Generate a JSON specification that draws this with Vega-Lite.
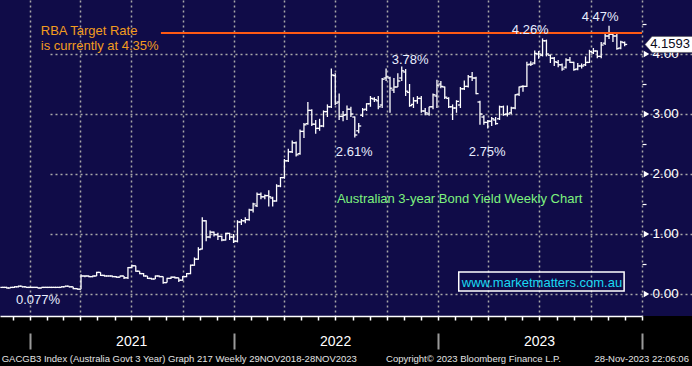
{
"$schema": "https://vega.github.io/schema/vega-lite/v6.json",
"width": 692, "height": 316,
"autosize": {"type": "none"},
"padding": {"left": 0, "top": 0, "right": 0, "bottom": 50},
"background": "#000000",
"view": {"fill": "#100c48", "stroke": null},
"config": {"font": "Liberation Sans"},
"datasets": {
"ohlc": [
{"d":"2020-11-13","o":0.11,"h":0.12,"l":0.10,"c":0.11},
{"d":"2020-11-20","o":0.11,"h":0.12,"l":0.09,"c":0.10},
{"d":"2020-11-27","o":0.10,"h":0.12,"l":0.10,"c":0.11},
{"d":"2020-12-04","o":0.11,"h":0.13,"l":0.10,"c":0.12},
{"d":"2020-12-11","o":0.12,"h":0.14,"l":0.11,"c":0.13},
{"d":"2020-12-18","o":0.13,"h":0.13,"l":0.11,"c":0.12},
{"d":"2020-12-25","o":0.12,"h":0.12,"l":0.10,"c":0.11},
{"d":"2021-01-01","o":0.11,"h":0.12,"l":0.10,"c":0.11},
{"d":"2021-01-08","o":0.11,"h":0.12,"l":0.10,"c":0.11},
{"d":"2021-01-15","o":0.11,"h":0.11,"l":0.09,"c":0.10},
{"d":"2021-01-22","o":0.10,"h":0.12,"l":0.10,"c":0.11},
{"d":"2021-01-29","o":0.11,"h":0.12,"l":0.10,"c":0.11},
{"d":"2021-02-05","o":0.11,"h":0.12,"l":0.10,"c":0.11},
{"d":"2021-02-12","o":0.11,"h":0.12,"l":0.10,"c":0.11},
{"d":"2021-02-19","o":0.11,"h":0.12,"l":0.10,"c":0.11},
{"d":"2021-02-26","o":0.11,"h":0.13,"l":0.11,"c":0.12},
{"d":"2021-03-05","o":0.12,"h":0.14,"l":0.12,"c":0.13},
{"d":"2021-03-12","o":0.13,"h":0.13,"l":0.11,"c":0.12},
{"d":"2021-03-19","o":0.12,"h":0.12,"l":0.08,"c":0.09},
{"d":"2021-03-26","o":0.09,"h":0.10,"l":0.077,"c":0.08},
{"d":"2021-04-02","o":0.08,"h":0.33,"l":0.08,"c":0.30},
{"d":"2021-04-09","o":0.30,"h":0.31,"l":0.28,"c":0.30},
{"d":"2021-04-16","o":0.30,"h":0.31,"l":0.28,"c":0.29},
{"d":"2021-04-23","o":0.29,"h":0.31,"l":0.28,"c":0.30},
{"d":"2021-04-30","o":0.30,"h":0.37,"l":0.30,"c":0.36},
{"d":"2021-05-07","o":0.36,"h":0.36,"l":0.30,"c":0.31},
{"d":"2021-05-14","o":0.31,"h":0.32,"l":0.29,"c":0.30},
{"d":"2021-05-21","o":0.30,"h":0.31,"l":0.29,"c":0.30},
{"d":"2021-05-28","o":0.30,"h":0.31,"l":0.28,"c":0.29},
{"d":"2021-06-04","o":0.29,"h":0.30,"l":0.27,"c":0.28},
{"d":"2021-06-11","o":0.28,"h":0.31,"l":0.28,"c":0.30},
{"d":"2021-06-18","o":0.30,"h":0.30,"l":0.25,"c":0.27},
{"d":"2021-06-25","o":0.27,"h":0.45,"l":0.25,"c":0.44},
{"d":"2021-07-02","o":0.44,"h":0.49,"l":0.43,"c":0.47},
{"d":"2021-07-09","o":0.47,"h":0.47,"l":0.37,"c":0.38},
{"d":"2021-07-16","o":0.38,"h":0.38,"l":0.33,"c":0.34},
{"d":"2021-07-23","o":0.34,"h":0.35,"l":0.29,"c":0.30},
{"d":"2021-07-30","o":0.30,"h":0.30,"l":0.25,"c":0.26},
{"d":"2021-08-06","o":0.26,"h":0.27,"l":0.24,"c":0.25},
{"d":"2021-08-13","o":0.25,"h":0.31,"l":0.25,"c":0.30},
{"d":"2021-08-20","o":0.30,"h":0.31,"l":0.28,"c":0.29},
{"d":"2021-08-27","o":0.29,"h":0.29,"l":0.17,"c":0.19},
{"d":"2021-09-03","o":0.19,"h":0.27,"l":0.19,"c":0.26},
{"d":"2021-09-10","o":0.26,"h":0.29,"l":0.25,"c":0.28},
{"d":"2021-09-17","o":0.28,"h":0.29,"l":0.26,"c":0.27},
{"d":"2021-09-24","o":0.27,"h":0.27,"l":0.20,"c":0.23},
{"d":"2021-10-01","o":0.23,"h":0.30,"l":0.22,"c":0.29},
{"d":"2021-10-08","o":0.29,"h":0.35,"l":0.28,"c":0.34},
{"d":"2021-10-15","o":0.34,"h":0.49,"l":0.33,"c":0.48},
{"d":"2021-10-22","o":0.48,"h":0.61,"l":0.47,"c":0.58},
{"d":"2021-10-29","o":0.58,"h":0.78,"l":0.57,"c":0.74},
{"d":"2021-11-05","o":0.75,"h":1.28,"l":0.74,"c":1.22},
{"d":"2021-11-12","o":1.22,"h":1.23,"l":0.88,"c":0.95},
{"d":"2021-11-19","o":0.95,"h":1.06,"l":0.93,"c":1.03},
{"d":"2021-11-26","o":1.03,"h":1.04,"l":0.96,"c":0.99},
{"d":"2021-12-03","o":0.99,"h":1.02,"l":0.90,"c":0.96},
{"d":"2021-12-10","o":0.96,"h":0.97,"l":0.88,"c":0.90},
{"d":"2021-12-17","o":0.90,"h":1.02,"l":0.89,"c":1.01},
{"d":"2021-12-24","o":1.01,"h":1.02,"l":0.90,"c":0.95},
{"d":"2021-12-31","o":0.95,"h":1.00,"l":0.85,"c":0.88},
{"d":"2022-01-07","o":0.88,"h":1.23,"l":0.86,"c":1.20},
{"d":"2022-01-14","o":1.20,"h":1.25,"l":1.15,"c":1.22},
{"d":"2022-01-21","o":1.22,"h":1.28,"l":1.18,"c":1.24},
{"d":"2022-01-28","o":1.24,"h":1.42,"l":1.22,"c":1.40},
{"d":"2022-02-04","o":1.40,"h":1.52,"l":1.36,"c":1.50},
{"d":"2022-02-11","o":1.47,"h":1.69,"l":1.45,"c":1.66},
{"d":"2022-02-18","o":1.66,"h":1.69,"l":1.58,"c":1.62},
{"d":"2022-02-25","o":1.62,"h":1.66,"l":1.58,"c":1.64},
{"d":"2022-03-04","o":1.64,"h":1.73,"l":1.46,"c":1.62},
{"d":"2022-03-11","o":1.60,"h":1.62,"l":1.46,"c":1.55},
{"d":"2022-03-18","o":1.55,"h":1.83,"l":1.54,"c":1.80},
{"d":"2022-03-25","o":1.80,"h":1.95,"l":1.78,"c":1.94},
{"d":"2022-04-01","o":1.94,"h":2.25,"l":1.92,"c":2.22},
{"d":"2022-04-08","o":2.22,"h":2.42,"l":2.20,"c":2.37},
{"d":"2022-04-15","o":2.37,"h":2.56,"l":2.35,"c":2.52},
{"d":"2022-04-22","o":2.52,"h":2.54,"l":2.29,"c":2.32},
{"d":"2022-04-29","o":2.34,"h":2.74,"l":2.32,"c":2.71},
{"d":"2022-05-06","o":2.71,"h":2.85,"l":2.60,"c":2.82},
{"d":"2022-05-13","o":2.84,"h":3.20,"l":2.82,"c":3.06},
{"d":"2022-05-20","o":3.06,"h":3.08,"l":2.80,"c":2.83},
{"d":"2022-05-27","o":2.83,"h":2.90,"l":2.67,"c":2.76},
{"d":"2022-06-03","o":2.76,"h":2.92,"l":2.72,"c":2.80},
{"d":"2022-06-10","o":2.80,"h":3.06,"l":2.78,"c":3.04},
{"d":"2022-06-17","o":3.04,"h":3.16,"l":2.95,"c":3.12},
{"d":"2022-06-24","o":3.12,"h":3.76,"l":3.10,"c":3.65},
{"d":"2022-07-01","o":3.64,"h":3.68,"l":3.15,"c":3.18},
{"d":"2022-07-08","o":3.20,"h":3.34,"l":2.90,"c":2.96},
{"d":"2022-07-15","o":2.96,"h":3.05,"l":2.88,"c":2.98},
{"d":"2022-07-22","o":2.99,"h":3.14,"l":2.90,"c":3.08},
{"d":"2022-07-29","o":3.08,"h":3.12,"l":2.95,"c":3.00},
{"d":"2022-08-05","o":2.95,"h":2.96,"l":2.61,"c":2.65},
{"d":"2022-08-12","o":2.72,"h":2.85,"l":2.68,"c":2.80},
{"d":"2022-08-19","o":2.98,"h":3.10,"l":2.95,"c":3.07},
{"d":"2022-08-26","o":3.08,"h":3.18,"l":3.05,"c":3.17},
{"d":"2022-09-02","o":3.17,"h":3.30,"l":3.12,"c":3.26},
{"d":"2022-09-09","o":3.25,"h":3.28,"l":3.20,"c":3.24},
{"d":"2022-09-16","o":3.22,"h":3.30,"l":3.08,"c":3.12},
{"d":"2022-09-23","o":3.15,"h":3.60,"l":3.10,"c":3.58},
{"d":"2022-09-30","o":3.60,"h":3.76,"l":3.55,"c":3.62},
{"d":"2022-10-07","o":3.60,"h":3.62,"l":3.02,"c":3.43},
{"d":"2022-10-14","o":3.40,"h":3.60,"l":3.35,"c":3.45},
{"d":"2022-10-21","o":3.45,"h":3.68,"l":3.45,"c":3.55},
{"d":"2022-10-28","o":3.60,"h":3.79,"l":3.55,"c":3.72},
{"d":"2022-11-04","o":3.70,"h":3.75,"l":3.30,"c":3.38},
{"d":"2022-11-11","o":3.36,"h":3.50,"l":3.12,"c":3.14},
{"d":"2022-11-18","o":3.16,"h":3.28,"l":3.10,"c":3.22},
{"d":"2022-11-25","o":3.22,"h":3.30,"l":3.17,"c":3.26},
{"d":"2022-12-02","o":3.26,"h":3.30,"l":3.02,"c":3.05},
{"d":"2022-12-09","o":3.05,"h":3.10,"l":2.98,"c":3.02},
{"d":"2022-12-16","o":3.00,"h":3.12,"l":2.97,"c":3.12},
{"d":"2022-12-23","o":3.12,"h":3.34,"l":3.08,"c":3.32},
{"d":"2022-12-30","o":3.30,"h":3.57,"l":3.10,"c":3.48},
{"d":"2023-01-06","o":3.50,"h":3.55,"l":3.43,"c":3.46},
{"d":"2023-01-13","o":3.45,"h":3.46,"l":3.25,"c":3.28},
{"d":"2023-01-20","o":3.26,"h":3.28,"l":3.10,"c":3.12},
{"d":"2023-01-27","o":3.12,"h":3.16,"l":2.90,"c":3.10},
{"d":"2023-02-03","o":3.10,"h":3.23,"l":3.02,"c":3.21},
{"d":"2023-02-10","o":3.15,"h":3.45,"l":3.10,"c":3.42},
{"d":"2023-02-17","o":3.42,"h":3.56,"l":3.40,"c":3.46},
{"d":"2023-02-24","o":3.46,"h":3.65,"l":3.44,"c":3.62},
{"d":"2023-03-03","o":3.62,"h":3.70,"l":3.55,"c":3.60},
{"d":"2023-03-10","o":3.60,"h":3.62,"l":3.33,"c":3.34},
{"d":"2023-03-17","o":3.20,"h":3.22,"l":2.82,"c":3.00},
{"d":"2023-03-24","o":2.95,"h":2.98,"l":2.82,"c":2.86},
{"d":"2023-03-31","o":2.86,"h":2.90,"l":2.76,"c":2.88},
{"d":"2023-04-07","o":2.88,"h":2.95,"l":2.80,"c":2.92},
{"d":"2023-04-14","o":2.90,"h":2.95,"l":2.82,"c":2.84},
{"d":"2023-04-21","o":2.92,"h":3.14,"l":2.90,"c":3.12},
{"d":"2023-04-28","o":3.12,"h":3.14,"l":2.97,"c":2.99},
{"d":"2023-05-05","o":3.00,"h":3.14,"l":2.96,"c":3.00},
{"d":"2023-05-12","o":3.02,"h":3.12,"l":3.00,"c":3.10},
{"d":"2023-05-19","o":3.10,"h":3.33,"l":3.08,"c":3.32},
{"d":"2023-05-26","o":3.33,"h":3.46,"l":3.30,"c":3.45},
{"d":"2023-06-02","o":3.46,"h":3.48,"l":3.37,"c":3.46},
{"d":"2023-06-09","o":3.46,"h":3.87,"l":3.45,"c":3.82},
{"d":"2023-06-16","o":3.83,"h":3.88,"l":3.80,"c":3.83},
{"d":"2023-06-23","o":3.85,"h":4.06,"l":3.83,"c":4.01},
{"d":"2023-06-30","o":4.00,"h":4.05,"l":3.92,"c":4.00},
{"d":"2023-07-07","o":3.98,"h":4.26,"l":3.96,"c":4.22},
{"d":"2023-07-14","o":4.22,"h":4.24,"l":3.96,"c":4.00},
{"d":"2023-07-21","o":3.98,"h":3.99,"l":3.85,"c":3.93},
{"d":"2023-07-28","o":3.93,"h":3.95,"l":3.80,"c":3.87},
{"d":"2023-08-04","o":3.86,"h":3.90,"l":3.78,"c":3.82},
{"d":"2023-08-11","o":3.82,"h":3.84,"l":3.72,"c":3.75},
{"d":"2023-08-18","o":3.78,"h":3.93,"l":3.76,"c":3.90},
{"d":"2023-08-25","o":3.90,"h":3.95,"l":3.85,"c":3.86},
{"d":"2023-09-01","o":3.86,"h":3.87,"l":3.72,"c":3.74},
{"d":"2023-09-08","o":3.75,"h":3.85,"l":3.73,"c":3.80},
{"d":"2023-09-15","o":3.80,"h":3.84,"l":3.76,"c":3.80},
{"d":"2023-09-22","o":3.82,"h":3.96,"l":3.80,"c":3.86},
{"d":"2023-09-29","o":3.86,"h":4.07,"l":3.85,"c":4.04},
{"d":"2023-10-06","o":4.02,"h":4.10,"l":4.00,"c":4.05},
{"d":"2023-10-13","o":4.05,"h":4.06,"l":3.93,"c":3.96},
{"d":"2023-10-20","o":3.96,"h":4.20,"l":3.93,"c":4.15},
{"d":"2023-10-27","o":4.18,"h":4.34,"l":4.15,"c":4.30},
{"d":"2023-11-03","o":4.30,"h":4.47,"l":4.25,"c":4.33},
{"d":"2023-11-10","o":4.33,"h":4.36,"l":4.20,"c":4.30},
{"d":"2023-11-17","o":4.30,"h":4.34,"l":4.07,"c":4.09},
{"d":"2023-11-24","o":4.10,"h":4.22,"l":4.08,"c":4.20},
{"d":"2023-12-01","o":4.19,"h":4.21,"l":4.13,"c":4.1593}
]
},
"layer": [
{"data": {"name": "ohlc"},
 "mark": {"type": "rule", "color": "#ffffff", "strokeWidth": 1.3},
 "encoding": {
  "x": {"field": "d", "type": "temporal", "scale": {"type": "utc", "domain": [1604793600000, 1704067200000], "range": [0, 642]},
        "axis": {"orient": "bottom", "tickCount": {"interval": "month", "step": 3}, "grid": true, "gridColor": "#a8a8a8", "gridDash": [2, 3], "gridWidth": 1.5, "gridOpacity": 1, "ticks": false, "labels": false, "domain": false, "title": null, "zindex": 0}},
  "y": {"field": "l", "type": "quantitative", "scale": {"domain": [-0.3667, 4.9], "nice": false, "zero": false},
        "axis": {"orient": "right", "offset": -50, "values": [0, 1, 2, 3, 4], "format": ".2f", "grid": false, "ticks": false, "domain": false, "labelColor": "#ffffff", "labelFont": "Liberation Sans", "labelFontSize": 13.5, "labelPadding": 10, "zindex": 0, "title": null}},
  "y2": {"field": "h"}
 }},
{"data": {"name": "ohlc"},
 "mark": {"type": "rule", "color": "#ffffff", "strokeWidth": 1.3, "xOffset": -2.5, "x2Offset": 0},
 "encoding": {
  "x": {"field": "d", "type": "temporal", "scale": {"type": "utc", "domain": [1604793600000, 1704067200000], "range": [0, 642]},
        "axis": {"orient": "bottom", "tickCount": {"interval": "month", "step": 1}, "grid": false, "labels": false, "ticks": true, "tickColor": "#ffffff", "tickSize": 4, "tickWidth": 1.5, "domain": true, "domainColor": "#ffffff", "domainWidth": 1.5, "title": null}},
  "x2": {"field": "d"},
  "y": {"field": "o", "type": "quantitative", "scale": {"domain": [-0.3667, 4.9], "nice": false, "zero": false},
        "axis": {"orient": "right", "offset": -50, "values": [0.5, 1.5, 2.5, 3.5, 4.5], "labels": false, "grid": false, "domain": false, "ticks": true, "tickColor": "#ffffff", "tickSize": 4, "tickWidth": 1.2, "title": null}}
 }},
{"data": {"name": "ohlc"},
 "mark": {"type": "rule", "color": "#ffffff", "strokeWidth": 1.3, "xOffset": 0, "x2Offset": 2.5},
 "encoding": {
  "x": {"field": "d", "type": "temporal", "scale": {"type": "utc", "domain": [1604793600000, 1704067200000], "range": [0, 642]},
        "axis": {"orient": "bottom", "offset": 17, "tickCount": {"interval": "year", "step": 1}, "ticks": true, "tickColor": "#9a9a9a", "tickSize": 16, "tickWidth": 2, "domain": false, "grid": false, "labels": true, "format": "%Y", "labelExpr": "utcyear(datum.value) == 2024 ? '' : datum.label", "labelOffset": 101, "labelPadding": -7.5, "labelBaseline": "middle", "labelAlign": "center", "labelColor": "#ffffff", "labelFont": "Liberation Sans", "labelFontSize": 14, "labelOverlap": false, "labelFlush": false, "labelBound": false, "title": null}},
  "x2": {"field": "d"},
  "y": {"field": "c", "type": "quantitative", "scale": {"domain": [-0.3667, 4.9], "nice": false, "zero": false},
        "axis": {"orient": "right", "offset": -50, "values": [0, 1, 2, 3, 4], "grid": true, "gridColor": "#a8a8a8", "gridDash": [2, 3], "gridWidth": 1.5, "gridOpacity": 1, "labels": false, "ticks": false, "domain": false, "title": null, "zindex": 0}}
 }},
{"data": {"values": [{"d0": "2021-08-23", "d1": "2024-01-01", "v": 4.35}]},
 "mark": {"type": "rule", "color": "#ff5a14", "strokeWidth": 2},
 "encoding": {
  "x": {"field": "d0", "type": "temporal", "scale": {"type": "utc", "domain": [1604793600000, 1704067200000], "range": [0, 642]}, "axis": null},
  "x2": {"field": "d1"},
  "y": {"field": "v", "type": "quantitative", "scale": {"domain": [-0.3667, 4.9], "nice": false, "zero": false}, "axis": null}
 }},
{"data": {"values": [{"v": 0}, {"v": 1}, {"v": 2}, {"v": 3}, {"v": 4}]},
 "mark": {"type": "point", "shape": "triangle-right", "filled": true, "color": "#ffffff", "opacity": 1, "size": 40, "xOffset": 4.5},
 "encoding": {
  "x": {"datum": 1704067200000, "type": "temporal", "scale": {"type": "utc", "domain": [1604793600000, 1704067200000], "range": [0, 642]}, "axis": null},
  "y": {"field": "v", "type": "quantitative", "scale": {"domain": [-0.3667, 4.9], "nice": false, "zero": false}, "axis": null}
 }},
{"data": {"values": [
  {"d": "2021-01-15", "v": -0.1, "t": "0.077%"},
  {"d": "2022-08-04", "v": 2.37, "t": "2.61%"},
  {"d": "2022-11-12", "v": 3.9, "t": "3.78%"},
  {"d": "2023-03-30", "v": 2.37, "t": "2.75%"},
  {"d": "2023-06-15", "v": 4.4, "t": "4.26%"},
  {"d": "2023-10-18", "v": 4.617, "t": "4.47%"}
 ]},
 "mark": {"type": "text", "color": "#e8eeff", "font": "Liberation Sans", "fontSize": 13, "align": "center", "baseline": "middle"},
 "encoding": {
  "x": {"field": "d", "type": "temporal", "scale": {"type": "utc", "domain": [1604793600000, 1704067200000], "range": [0, 642]}, "axis": null},
  "y": {"field": "v", "type": "quantitative", "scale": {"domain": [-0.3667, 4.9], "nice": false, "zero": false}, "axis": null},
  "text": {"field": "t"}
 }},
{"data": {"values": [
  {"d": "2021-01-20", "v": 4.39, "t": "RBA Target Rate"},
  {"d": "2021-01-20", "v": 4.13, "t": "is currently at 4.35%"}
 ]},
 "mark": {"type": "text", "color": "#f39c1f", "font": "Liberation Sans", "fontSize": 13, "align": "left", "baseline": "middle"},
 "encoding": {
  "x": {"field": "d", "type": "temporal", "scale": {"type": "utc", "domain": [1604793600000, 1704067200000], "range": [0, 642]}, "axis": null},
  "y": {"field": "v", "type": "quantitative", "scale": {"domain": [-0.3667, 4.9], "nice": false, "zero": false}, "axis": null},
  "text": {"field": "t"}
 }},
{"data": {"values": [{"d": "2022-07-04", "v": 1.583, "t": "Australian 3-year Bond Yield Weekly Chart"}]},
 "mark": {"type": "text", "color": "#7ef27e", "font": "Liberation Sans", "fontSize": 13, "align": "left", "baseline": "middle"},
 "encoding": {
  "x": {"field": "d", "type": "temporal", "scale": {"type": "utc", "domain": [1604793600000, 1704067200000], "range": [0, 642]}, "axis": null},
  "y": {"field": "v", "type": "quantitative", "scale": {"domain": [-0.3667, 4.9], "nice": false, "zero": false}, "axis": null},
  "text": {"field": "t"}
 }},
{"data": {"values": [{"d0": "2023-02-07", "d1": "2023-11-30", "v0": 0.367, "v1": 0.05}]},
 "mark": {"type": "rect", "fillOpacity": 0, "fill": "#100c48", "stroke": "#ffffff", "strokeWidth": 1.5},
 "encoding": {
  "x": {"field": "d0", "type": "temporal", "scale": {"type": "utc", "domain": [1604793600000, 1704067200000], "range": [0, 642]}, "axis": null},
  "x2": {"field": "d1"},
  "y": {"field": "v0", "type": "quantitative", "scale": {"domain": [-0.3667, 4.9], "nice": false, "zero": false}, "axis": null},
  "y2": {"field": "v1"}
 }},
{"data": {"values": [{"d": "2023-07-06", "v": 0.183, "t": "www.marketmatters.com.au"}]},
 "mark": {"type": "text", "color": "#1ad8f2", "font": "Liberation Sans", "fontSize": 13, "align": "center", "baseline": "middle"},
 "encoding": {
  "x": {"field": "d", "type": "temporal", "scale": {"type": "utc", "domain": [1604793600000, 1704067200000], "range": [0, 642]}, "axis": null},
  "y": {"field": "v", "type": "quantitative", "scale": {"domain": [-0.3667, 4.9], "nice": false, "zero": false}, "axis": null},
  "text": {"field": "t"}
 }},
{"data": {"values": [{"v": 4.1593, "t": "4.1593"}]},
 "mark": {"type": "point", "shape": "M-1,0L-0.714,-0.327L1,-0.327L1,0.327L-0.714,0.327Z", "filled": true, "fill": "#ffffff", "stroke": "#555555", "strokeWidth": 0.6, "opacity": 1, "size": 2401, "xOffset": 27.5},
 "encoding": {
  "x": {"datum": 1704067200000, "type": "temporal", "scale": {"type": "utc", "domain": [1604793600000, 1704067200000], "range": [0, 642]}, "axis": null},
  "y": {"field": "v", "type": "quantitative", "scale": {"domain": [-0.3667, 4.9], "nice": false, "zero": false}, "axis": null}
 }},
{"data": {"values": [{"v": 4.1593, "t": "4.1593"}]},
 "mark": {"type": "text", "color": "#0a0a1a", "font": "Liberation Sans", "fontSize": 13, "align": "center", "baseline": "middle", "xOffset": 28},
 "encoding": {
  "x": {"datum": 1704067200000, "type": "temporal", "scale": {"type": "utc", "domain": [1604793600000, 1704067200000], "range": [0, 642]}, "axis": null},
  "y": {"field": "v", "type": "quantitative", "scale": {"domain": [-0.3667, 4.9], "nice": false, "zero": false}, "axis": null},
  "text": {"field": "t"}
 }},
{"data": {"values": [
  {"d": "2020-11-11", "v": -1.083, "t": "GACGB3 Index (Australia Govt 3 Year) Graph 217  Weekly 29NOV2018-28NOV2023"},
  {"d": "2022-09-30", "v": -1.083, "t": "Copyright© 2023 Bloomberg Finance L.P."}
 ]},
 "mark": {"type": "text", "color": "#e4e4e4", "font": "Liberation Sans", "fontSize": 9.5, "align": "left", "baseline": "middle"},
 "encoding": {
  "x": {"field": "d", "type": "temporal", "scale": {"type": "utc", "domain": [1604793600000, 1704067200000], "range": [0, 642]}, "axis": null},
  "y": {"field": "v", "type": "quantitative", "scale": {"domain": [-0.3667, 4.9], "nice": false, "zero": false}, "axis": null},
  "text": {"field": "t"}
 }},
{"data": {"values": [{"d": "2024-03-25", "v": -1.083, "t": "28-Nov-2023 22:06:06"}]},
 "mark": {"type": "text", "color": "#e4e4e4", "font": "Liberation Sans", "fontSize": 9.5, "align": "right", "baseline": "middle"},
 "encoding": {
  "x": {"field": "d", "type": "temporal", "scale": {"type": "utc", "domain": [1604793600000, 1704067200000], "range": [0, 642]}, "axis": null},
  "y": {"field": "v", "type": "quantitative", "scale": {"domain": [-0.3667, 4.9], "nice": false, "zero": false}, "axis": null},
  "text": {"field": "t"}
 }}
],
"resolve": {"axis": {"x": "independent", "y": "independent"}}
}
